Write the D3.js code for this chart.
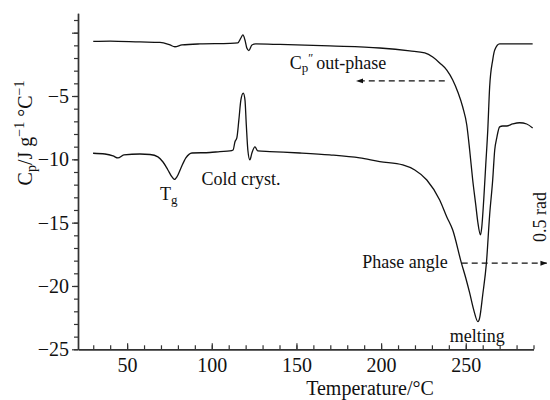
<!DOCTYPE html>
<html>
<head>
<meta charset="utf-8">
<script src="https://cdn.jsdelivr.net/npm/d3@7"></script>
<style>
  body { margin: 0; background: #fff; }
  svg text { font-family: "Liberation Serif", "Times New Roman", serif; fill: #111; }
</style>
</head>
<body>
<div id="chart"></div>
<script>
// upper trace: Cp'' out-phase
const outPhaseT = [30, 40, 57.6, 69.4, 75.3, 78.2, 82.4, 93, 110.7, 115.4, 117.2, 118.4, 119.6, 120.7, 121.9, 123.7, 126,
  140.2, 169.7, 199.2, 216.9, 225.8, 230.5, 234.6, 238.8, 242.3, 245.3, 248.2, 250.6, 252.3, 254.1, 255.9, 257.1,
  258.7, 259.4, 260.6, 261.8, 263, 264.1, 265.9, 267.1, 270, 289.5]
const outPhaseCp = [-0.69, -0.66, -0.73, -0.77, -0.97, -1.11, -0.97, -0.89, -0.85, -0.81, -0.42, -0.18, -0.58, -1.21, -1.41, -0.97, -0.89,
  -0.93, -1.05, -1.21, -1.44, -1.6, -1.92, -2.39, -2.95, -3.73, -4.68, -5.87, -7.29, -9.26, -11.63, -13.6, -14.95,
  -15.97, -15.42, -13.21, -10.44, -7.68, -4.29, -2.16, -1.37, -0.89, -0.89]

// lower trace: Cp (phase angle)
const phaseT = [29.9, 36.9, 41.7, 44.6, 48.1, 57.6, 63.5, 68.2, 71.2, 74.1, 76.5, 77.9, 79.4, 81.8, 84.7, 88.3, 98.9, 104.8,
  110.7, 112.6, 113.7, 114.8, 116, 117.2, 118.6, 119.6, 120.4, 121.3, 122.5, 123.7, 125.5, 127.2, 134.3, 152, 169.7,
  187.4, 199.2, 212.8, 219.9, 227, 234.6, 238.8, 242.3, 247.4, 250, 252.3, 254.7, 257.2, 258.2, 260, 262.2, 264.1,
  265.9, 267.1, 268.3, 270, 271.8, 274.2, 277.7, 281.8, 286, 289.5]
const phaseCp = [-9.52, -9.58, -9.73, -9.89, -9.65, -9.58, -9.62, -9.81, -10.21, -10.84, -11.39, -11.59, -11.39, -10.68, -9.89, -9.5, -9.46, -9.39,
  -9.34, -9.26, -8.61, -8.31, -6.89, -5.31, -4.78, -5.31, -7.29, -9.26, -10.05, -9.5, -9.02, -9.34, -9.39, -9.5, -9.65,
  -9.89, -10.18, -10.44, -10.84, -11.63, -13.21, -14.55, -15.58, -18.18, -19.37, -20.55, -21.89, -22.82, -22.52, -20.71, -18.18, -14.39,
  -11.63, -9.26, -8.31, -7.44, -7.37, -7.37, -7.21, -7.11, -7.21, -7.52]

const xMajorTicks = [50, 100, 150, 200, 250]
const xMinorTicks = d3.range(30, 291, 10)
const yMajorTicks = [-25, -20, -15, -10, -5, 0]
const yMinorTicks = d3.range(-25, 2, 1)

const w = 550
const h = 400

const x = d3.scaleLinear().domain([21, 290]).range([78, 533.5])
const y = d3.scaleLinear().domain([-25, 1.53]).range([349.3, 13.3])

const svg = d3.select('#chart').append('svg')
  .attr('width', w)
  .attr('height', h)

const defs = svg.append('defs')
defs.append('marker')
  .attr('id', 'head')
  .attr('viewBox', '0 0 10 10')
  .attr('refX', 9).attr('refY', 5)
  .attr('markerWidth', 7).attr('markerHeight', 7)
  .attr('markerUnits', 'userSpaceOnUse')
  .attr('orient', 'auto')
  .append('path')
  .attr('d', 'M0,1.5L10,5L0,8.5Z')
  .attr('fill', '#111')

// axes
const axisColor = '#333'

const gx = svg.append('g').attr('transform', `translate(0,${y(-25)})`)
gx.call(d3.axisBottom(x).tickValues(xMinorTicks).tickSize(-4).tickSizeOuter(0).tickFormat(''))
gx.append('g').call(d3.axisBottom(x).tickValues(xMajorTicks).tickSize(-6).tickSizeOuter(0).tickPadding(9))
gx.selectAll('path').attr('stroke', axisColor).attr('stroke-width', 1.4)
gx.selectAll('line').attr('stroke', axisColor).attr('stroke-width', 1.2)
gx.selectAll('text').attr('font-size', 20).attr('font-family', '"Liberation Serif", serif').attr('fill', '#111')

const gy = svg.append('g').attr('transform', `translate(${x(21)},0)`)
gy.call(d3.axisLeft(y).tickValues(yMinorTicks).tickSize(4).tickSizeOuter(0).tickFormat(''))
gy.append('g').call(d3.axisLeft(y).tickValues(yMajorTicks).tickSize(6).tickSizeOuter(0).tickPadding(3)
  .tickFormat(d => d === 0 ? '' : d3.format('d')(d)))
gy.selectAll('path').attr('stroke', axisColor).attr('stroke-width', 1.4)
gy.selectAll('line').attr('stroke', axisColor).attr('stroke-width', 1.2)
gy.selectAll('text').attr('font-size', 20).attr('font-family', '"Liberation Serif", serif').attr('fill', '#111')

// traces
const line = d3.line()
  .x(d => x(d[0]))
  .y(d => y(d[1]))
  .curve(d3.curveMonotoneX)

svg.append('path')
  .datum(d3.zip(outPhaseT, outPhaseCp))
  .attr('d', line)
  .attr('fill', 'none')
  .attr('stroke', '#111')
  .attr('stroke-width', 1.3)

svg.append('path')
  .datum(d3.zip(phaseT, phaseCp))
  .attr('d', line)
  .attr('fill', 'none')
  .attr('stroke', '#111')
  .attr('stroke-width', 1.3)

// arrows
svg.append('line')
  .attr('x1', x(237.6)).attr('x2', x(185.6))
  .attr('y1', y(-3.81)).attr('y2', y(-3.81))
  .attr('stroke', '#111').attr('stroke-width', 1.2)
  .attr('stroke-dasharray', '6,4')
  .attr('marker-end', 'url(#head)')

svg.append('line')
  .attr('x1', x(247.6)).attr('x2', x(297.8))
  .attr('y1', y(-18.2)).attr('y2', y(-18.2))
  .attr('stroke', '#111').attr('stroke-width', 1.2)
  .attr('stroke-dasharray', '6,4')
  .attr('marker-end', 'url(#head)')

// annotations
const fs = 18

const cp = svg.append('text').attr('x', x(146.1)).attr('y', y(-2.9)).attr('font-size', fs)
cp.append('tspan').text('C')
cp.append('tspan').attr('dy', 3).attr('font-size', 13).text('p')
cp.append('tspan').attr('dy', -10).attr('font-size', 12).text('\u2033')
cp.append('tspan').attr('dx', 3).attr('dy', 7).text('out-phase')

const tg = svg.append('text').attr('x', x(69.4)).attr('y', y(-13.2)).attr('font-size', fs)
tg.append('tspan').text('T')
tg.append('tspan').attr('dy', 4).attr('font-size', 13).text('g')

svg.append('text').attr('x', x(94)).attr('y', y(-12.06)).attr('font-size', fs).text('Cold cryst.')

svg.append('text').attr('x', x(239.4)).attr('y', y(-18.58)).attr('font-size', fs)
  .attr('text-anchor', 'end').text('Phase angle')

svg.append('text').attr('x', x(240.5)).attr('y', y(-24.4)).attr('font-size', fs).text('melting')

svg.append('text')
  .attr('transform', `translate(${x(297.2)},${y(-14.55)}) rotate(-90)`)
  .attr('text-anchor', 'middle')
  .attr('font-size', fs)
  .text('0.5 rad')

// axis titles
svg.append('text')
  .attr('x', 370).attr('y', 395)
  .attr('text-anchor', 'middle')
  .attr('font-size', 20)
  .text('Temperature/°C')

const yt = svg.append('text')
  .attr('transform', 'translate(32,133) rotate(-90)')
  .attr('text-anchor', 'middle')
  .attr('font-size', 20)
yt.append('tspan').text('C')
yt.append('tspan').attr('dy', 4).attr('font-size', 14).text('p')
yt.append('tspan').attr('dy', -4).text('/J g')
yt.append('tspan').attr('dy', -8).attr('font-size', 14).text('\u22121')
yt.append('tspan').attr('dy', 8).text(' °C')
yt.append('tspan').attr('dy', -8).attr('font-size', 14).text('\u22121')
</script>
</body>
</html>
